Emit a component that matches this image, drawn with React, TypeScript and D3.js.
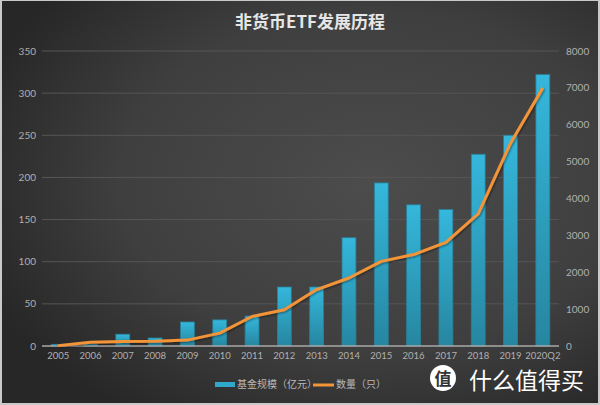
import * as d3 from 'd3';

const categories = ['2005', '2006', '2007', '2008', '2009', '2010', '2011', '2012', '2013', '2014', '2015', '2016', '2017', '2018', '2019', '2020Q2'];
const fundSize = [2, 2, 14, 9.5, 28.5, 31, 35.5, 70, 70, 128.5, 193.5, 167.5, 162, 227.5, 250, 322];
const fundCount = [10, 100, 125, 130, 160, 350, 800, 985, 1530, 1845, 2295, 2480, 2810, 3580, 5500, 7000];
const leftTicks = [0, 50, 100, 150, 200, 250, 300, 350];
const rightTicks = [0, 1000, 2000, 3000, 4000, 5000, 6000, 7000, 8000];

const W = 600;
const H = 405;
const margin = { top: 51, right: 41, bottom: 59, left: 42 };
const font = "'Noto Sans CJK SC', 'Noto Sans', sans-serif";
const numFont = "Lato, 'Open Sans', sans-serif";

export default function App() {
  const x = d3.scaleBand<string>()
    .domain(categories)
    .range([margin.left, W - margin.right])
    .paddingInner(0.57)
    .paddingOuter(0.285);
  const yL = d3.scaleLinear().domain([0, 350]).range([H - margin.bottom, margin.top]);
  const yR = d3.scaleLinear().domain([0, 8000]).range([H - margin.bottom, margin.top]);

  const line = d3.line<number>()
    .x((_, i) => (x(categories[i]) ?? 0) + x.bandwidth() / 2)
    .y(d => yR(d));

  const baseY = yL(0);

  return (
    <svg width={W} height={H} style={{ position: 'absolute', left: 0, top: 0 }} fontFamily={font}>
      <defs>
        <radialGradient id="bg" cx="62%" cy="45%" r="70%">
          <stop offset="0%" stopColor="#4c4c4c" />
          <stop offset="60%" stopColor="#3f3f3f" />
          <stop offset="100%" stopColor="#272727" />
        </radialGradient>
        <linearGradient id="bar" x1="0" y1="0" x2="0" y2="1">
          <stop offset="0%" stopColor="#35b7dc" />
          <stop offset="100%" stopColor="#2686a0" />
        </linearGradient>
        <filter id="shadow" x="-10%" y="-10%" width="120%" height="120%">
          <feDropShadow dx="1" dy="1" stdDeviation="1" floodColor="#000" floodOpacity="0.45" />
        </filter>
      </defs>
      <rect x={0} y={0} width={W} height={H} fill="#c9c9c9" />
      <rect x={2} y={1} width={W - 4} height={H - 3} fill="url(#bg)" />

      <text x={310} y={28} textAnchor="middle" fill="#e6e6e6" fontSize={17} fontWeight="bold">非货币ETF发展历程</text>

      {leftTicks.map(t => (
        <g key={'l' + t}>
          {t > 0 && (
            <line x1={margin.left} x2={W - margin.right} y1={yL(t)} y2={yL(t)} stroke="#565656" strokeWidth={1} />
          )}
          <text x={36} y={yL(t) + 3.5} textAnchor="end" fill="#b0b0b0" fontSize={10} fontFamily={numFont}>{t}</text>
        </g>
      ))}
      {rightTicks.map(t => (
        <text key={'r' + t} x={566} y={yR(t) + 3.5} textAnchor="start" fill="#b0b0b0" fontSize={10} fontFamily={numFont}>{t}</text>
      ))}

      {categories.map((c, i) => (
        <rect key={c} x={x(c)} y={yL(fundSize[i])} width={x.bandwidth()} height={baseY - yL(fundSize[i])}
          fill="url(#bar)" stroke="#2a7f98" strokeWidth={0.8} />
      ))}

      <line x1={margin.left} x2={W - margin.right} y1={baseY} y2={baseY} stroke="#a9a9a9" strokeWidth={1.5} />

      <path d={line(fundCount) ?? ''} fill="none" stroke="#f39439" strokeWidth={3} strokeLinejoin="round" filter="url(#shadow)" />

      {categories.map(c => (
        <text key={'x' + c} x={(x(c) ?? 0) + x.bandwidth() / 2} y={359} textAnchor="middle" fill="#b0b0b0" fontSize={9.5} fontFamily={numFont}>{c}</text>
      ))}

      <g>
        <rect x={215} y={382} width={20} height={5} fill="#2fa8cc" />
        <text x={237} y={388} fill="#b8b8b8" fontSize={10}>基金规模（亿元）</text>
        <line x1={313} x2={334} y1={385} y2={385} stroke="#f39439" strokeWidth={3} />
        <text x={336} y={388} fill="#b8b8b8" fontSize={10}>数量（只）</text>
      </g>

      <g>
        <circle cx={443} cy={378} r={13} fill="#ffffff" />
        <text x={443} y={385} textAnchor="middle" fill="#333" fontSize={17} fontWeight="bold">值</text>
        <text x={469} y={389} fill="#ffffff" fontSize={23}>什么值得买</text>
      </g>
    </svg>
  );
}
